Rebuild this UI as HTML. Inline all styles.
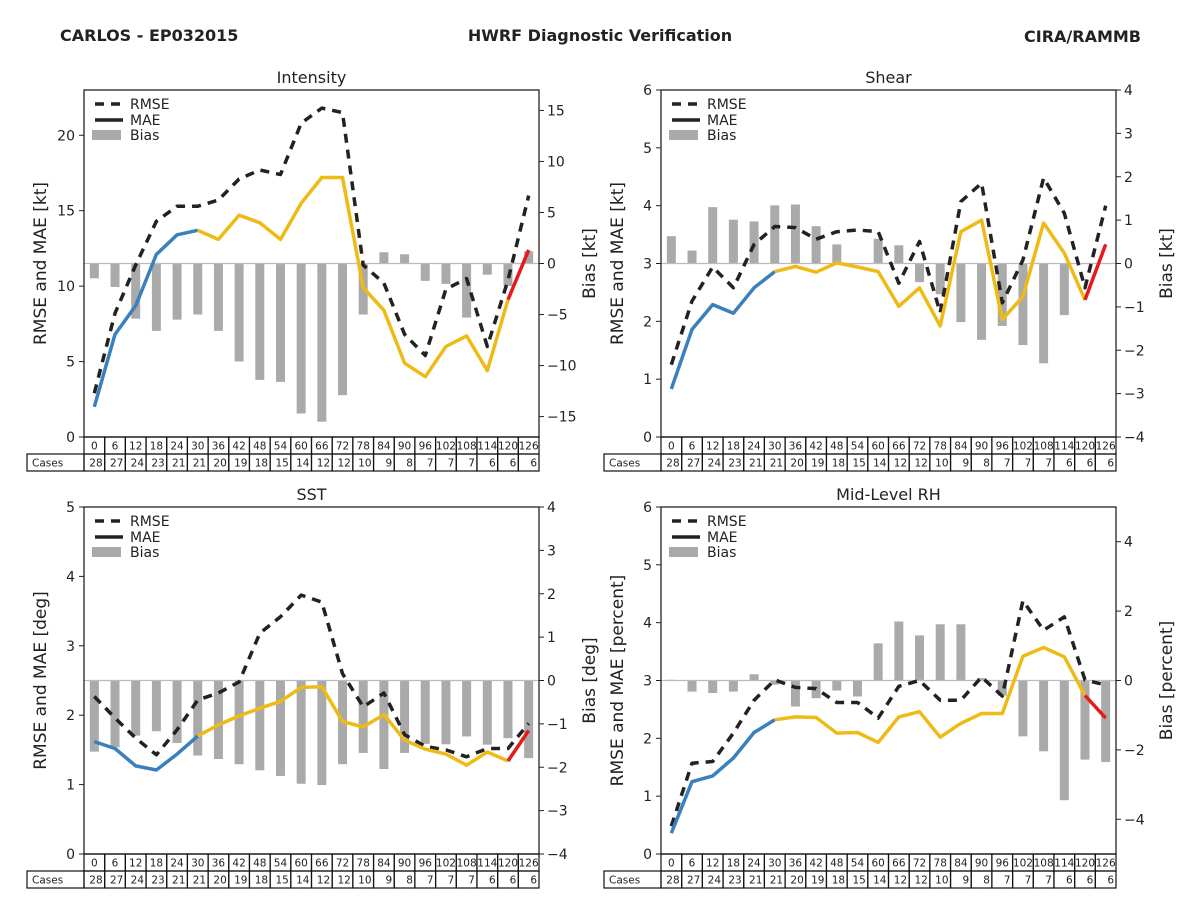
<!DOCTYPE html>
<html><head><meta charset="utf-8">
<style>
body{margin:0;background:#fff;}
svg{display:block;font-family:"DejaVu Sans","Liberation Sans",sans-serif;}
</style></head>
<body>
<svg id="fig" width="1200" height="900" viewBox="0 0 1200 900">
<text x="60" y="41" font-size="16" font-weight="bold" fill="#222">CARLOS - EP032015</text>
<text x="600" y="41" font-size="16" font-weight="bold" fill="#222" text-anchor="middle">HWRF Diagnostic Verification</text>
<text x="1141" y="42" font-size="16" font-weight="bold" fill="#222" text-anchor="end">CIRA/RAMMB</text>
</svg>
<script>
const leads = [0,6,12,18,24,30,36,42,48,54,60,66,72,78,84,90,96,102,108,114,120,126];
const cases = [28,27,24,23,21,21,20,19,18,15,14,12,12,10,9,8,7,7,7,6,6,6];

const intRmse = [2.9,8.2,11.4,14.3,15.3,15.3,15.7,17.1,17.7,17.4,20.8,21.8,21.5,11.4,10.2,6.8,5.4,9.8,10.5,6.0,10.4,16.0];
const intMae  = [2.0,6.8,8.7,12.1,13.4,13.7,13.1,14.7,14.2,13.1,15.5,17.2,17.2,9.9,8.4,4.9,4.0,6.0,6.7,4.4,9.1,12.4];
const intBias = [-1.45,-2.3,-5.4,-6.6,-5.5,-5.0,-6.6,-9.6,-11.4,-11.6,-14.7,-15.5,-12.9,-5.0,1.1,0.9,-1.7,-2.0,-5.3,-1.1,-2.2,1.2];

const shrRmse = [1.25,2.35,2.94,2.58,3.33,3.64,3.62,3.42,3.55,3.58,3.55,2.66,3.38,2.15,4.07,4.39,2.32,3.06,4.48,3.87,2.58,4.0];
const shrMae  = [0.83,1.86,2.29,2.14,2.58,2.86,2.95,2.85,3.01,2.94,2.86,2.26,2.58,1.92,3.55,3.75,2.03,2.43,3.70,3.18,2.37,3.33];
const shrBias = [0.63,0.3,1.3,1.01,0.97,1.34,1.36,0.86,0.44,0.0,0.57,0.42,-0.43,-0.71,-1.35,-1.76,-1.44,-1.88,-2.3,-1.19,0.0,0.0];

const sstRmse = [2.27,1.96,1.67,1.43,1.79,2.22,2.32,2.48,3.18,3.42,3.73,3.63,2.60,2.12,2.32,1.72,1.55,1.50,1.40,1.52,1.52,1.88];
const sstMae  = [1.62,1.52,1.27,1.21,1.44,1.70,1.86,1.99,2.10,2.20,2.40,2.41,1.91,1.83,2.01,1.64,1.51,1.44,1.28,1.47,1.34,1.78];
const sstBias = [-1.64,-1.54,-1.27,-1.17,-1.44,-1.73,-1.81,-1.93,-2.07,-2.20,-2.38,-2.41,-1.93,-1.67,-2.04,-1.67,-1.46,-1.47,-1.29,-1.48,-1.33,-1.79];

const rhRmse = [0.48,1.57,1.60,2.09,2.66,3.01,2.88,2.86,2.62,2.62,2.35,2.90,3.0,2.66,2.66,3.06,2.73,4.38,3.87,4.10,3.01,2.92];
const rhMae  = [0.36,1.25,1.35,1.66,2.10,2.32,2.37,2.36,2.09,2.10,1.93,2.37,2.46,2.02,2.26,2.43,2.43,3.42,3.57,3.41,2.74,2.35];
const rhBias = [0.02,-0.32,-0.36,-0.32,0.18,-0.12,-0.75,-0.51,-0.29,-0.46,1.07,1.70,1.30,1.62,1.62,0.07,-0.44,-1.61,-2.04,-3.45,-2.28,-2.35];

const intLeftTicks = [0,5,10,15,20];
const intRightTicks = [-15,-10,-5,0,5,10,15];
const shrLeftTicks = [0,1,2,3,4,5,6];
const shrRightTicks = [-4,-3,-2,-1,0,1,2,3,4];
const sstLeftTicks = [0,1,2,3,4,5];
const sstRightTicks = [-4,-3,-2,-1,0,1,2,3,4];
const rhLeftTicks = [0,1,2,3,4,5,6];
const rhRightTicks = [-4,-2,0,2,4];

const NS = "http://www.w3.org/2000/svg";
const svg = document.getElementById('fig');
function el(tag, attrs, parent){
  const e = document.createElementNS(NS, tag);
  for (const k in attrs) e.setAttribute(k, attrs[k]);
  (parent||svg).appendChild(e);
  return e;
}
function fmt(v){ return v < 0 ? '\u2212' + Math.abs(v) : String(v); }

const panels = [
  {key:'intensity', title:'Intensity', x0:84, y0:90, lmax:23, rmin:-17, rmax:17, lt:intLeftTicks, rt:intRightTicks, rmse:intRmse, mae:intMae, bias:intBias, ylab:'RMSE and MAE [kt]', rlab:'Bias [kt]'},
  {key:'shear', title:'Shear', x0:661, y0:90, lmax:6, rmin:-4, rmax:4, lt:shrLeftTicks, rt:shrRightTicks, rmse:shrRmse, mae:shrMae, bias:shrBias, ylab:'RMSE and MAE [kt]', rlab:'Bias [kt]'},
  {key:'sst', title:'SST', x0:84, y0:507, lmax:5, rmin:-4, rmax:4, lt:sstLeftTicks, rt:sstRightTicks, rmse:sstRmse, mae:sstMae, bias:sstBias, ylab:'RMSE and MAE [deg]', rlab:'Bias [deg]'},
  {key:'rh', title:'Mid-Level RH', x0:661, y0:507, lmax:6, rmin:-5, rmax:5, lt:rhLeftTicks, rt:rhRightTicks, rmse:rhRmse, mae:rhMae, bias:rhBias, ylab:'RMSE and MAE [percent]', rlab:'Bias [percent]'}
];

const W = 455, H = 347, N = leads.length, CW = W / N;

panels.forEach(p => {
  const g = el('g', {});
  
  
  const xOf = i => p.x0 + (i + 0.5) * CW;
  const yL = v => p.y0 + H - v / p.lmax * H;
  const yR = v => p.y0 + H - (v - p.rmin) / (p.rmax - p.rmin) * H;

  const t = el('text', {x:p.x0 + W/2, y:p.y0 - 7, 'font-size':16, 'text-anchor':'middle', fill:'#222'}, g);
  t.textContent = p.title;
  
  

  p.bias.forEach((b, i) => {
    const y1 = yR(Math.max(b, 0)), y2 = yR(Math.min(b, 0));
    const r = el('rect', {x:xOf(i) - 4.5, y:y1, width:9, height:Math.max(y2 - y1, 0.6), fill:'#aaaaaa'}, g);
    
    
  });
  const z = el('line', {x1:p.x0, x2:p.x0 + W, y1:yR(0), y2:yR(0), stroke:'#bbbbbb', 'stroke-width':1.2}, g);
  
  

  const rp = p.rmse.map((v, i) => xOf(i).toFixed(1) + ',' + yL(v).toFixed(1)).join(' ');
  const rl = el('polyline', {points:rp, fill:'none', stroke:'#222', 'stroke-width':3.5, 'stroke-dasharray':'9 7', 'stroke-linejoin':'round'}, g);
  
  

  const segs = [[0,5,'#3a80bd','mae-line-early'],[5,20,'#eebb16','mae-line-mid'],[20,21,'#e41a1c','mae-line-late']];
  segs.forEach(s => {
    const pts = [];
    for (let i = s[0]; i <= s[1]; i++) pts.push(xOf(i).toFixed(1) + ',' + yL(p.mae[i]).toFixed(1));
    const l = el('polyline', {points:pts.join(' '), fill:'none', stroke:s[2], 'stroke-width':3.5, 'stroke-linejoin':'round'}, g);
    
    
  });

  const fr = el('rect', {x:p.x0, y:p.y0, width:W, height:H, fill:'none', stroke:'#222', 'stroke-width':1.3}, g);
  
  

  p.lt.forEach(v => {
    const y = yL(v);
    el('line', {x1:p.x0 - 5, x2:p.x0, y1:y, y2:y, stroke:'#222', 'stroke-width':1}, g);
    const tx = el('text', {x:p.x0 - 9, y:y + 5, 'font-size':14, 'text-anchor':'end', fill:'#222'}, g);
    tx.textContent = v;
    
    
  });
  p.rt.forEach(v => {
    const y = yR(v);
    el('line', {x1:p.x0 + W, x2:p.x0 + W + 5, y1:y, y2:y, stroke:'#222', 'stroke-width':1}, g);
    const tx = el('text', {x:p.x0 + W + 8, y:y + 5, 'font-size':14, fill:'#222'}, g);
    tx.textContent = fmt(v);
    
    
  });

  const yl = el('text', {x:0, y:0, 'font-size':17, 'text-anchor':'middle', fill:'#222', transform:`translate(${p.x0 - 38},${p.y0 + H/2}) rotate(-90)`}, g);
  yl.textContent = p.ylab;
  
  
  const yr = el('text', {x:0, y:0, 'font-size':17, 'text-anchor':'middle', fill:'#222', transform:`translate(${p.x0 + W + 56},${p.y0 + H/2}) rotate(-90)`}, g);
  yr.textContent = p.rlab;
  
  

  const lx = p.x0 + 11, ly = p.y0 + 14;
  const l1 = el('line', {x1:lx, x2:lx + 30, y1:ly, y2:ly, stroke:'#222', 'stroke-width':3.5, 'stroke-dasharray':'9 7'}, g);
  
  
  const l2 = el('line', {x1:lx, x2:lx + 28, y1:ly + 16, y2:ly + 16, stroke:'#222', 'stroke-width':3.5}, g);
  
  
  const l3 = el('rect', {x:lx - 3, y:ly + 26, width:29, height:10, fill:'#aaaaaa'}, g);
  
  
  [['RMSE',0],['MAE',16],['Bias',31]].forEach(a => {
    const tx = el('text', {x:lx + 35, y:ly + a[1] + 5, 'font-size':14, fill:'#222'}, g);
    tx.textContent = a[0];
    
    
  });

  const ty = p.y0 + H, rh = 17;
  const tg = el('g', {}, g);
  
  
  leads.forEach((v, i) => {
    const cx = p.x0 + i * CW;
    el('rect', {x:cx, y:ty, width:CW, height:rh, fill:'none', stroke:'#111', 'stroke-width':1.2}, tg);
    el('rect', {x:cx, y:ty + rh, width:CW, height:rh, fill:'none', stroke:'#111', 'stroke-width':1.2}, tg);
    const a = el('text', {x:cx + CW/2, y:ty + 12.5, 'font-size':10.5, 'text-anchor':'middle', fill:'#222'}, tg);
    a.textContent = v;
    
    
    const b = el('text', {x:cx + CW - 2, y:ty + rh + 12.5, 'font-size':10.5, 'text-anchor':'end', fill:'#222'}, tg);
    b.textContent = cases[i];
    
    
  });
  el('rect', {x:p.x0 - 57, y:ty + rh, width:57, height:rh, fill:'none', stroke:'#111', 'stroke-width':1.2}, tg);
  const ct = el('text', {x:p.x0 - 52, y:ty + rh + 12.5, 'font-size':10.5, fill:'#222'}, tg);
  ct.textContent = 'Cases';
  
  
});
</script>
</body></html>
